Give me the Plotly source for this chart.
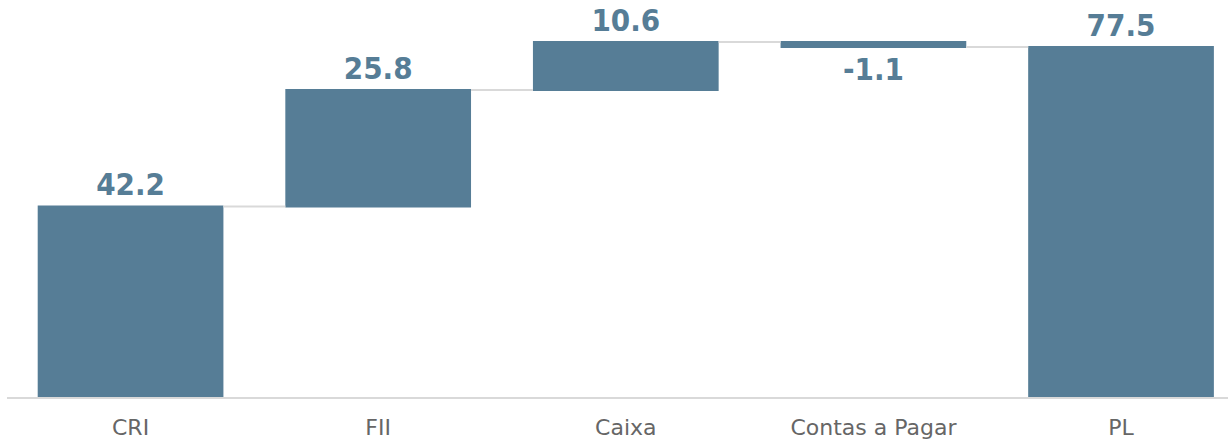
import plotly.graph_objects as go

categories = ["CRI", "FII", "Caixa", "Contas a Pagar", "PL"]
values = [42.2, 25.8, 10.6, -1.1, 77.5]
measures = ["relative", "relative", "relative", "relative", "total"]
labels = ["42.2", "25.8", "10.6", "-1.1", "77.5"]

bar_color = "#567d96"

fig = go.Figure(go.Waterfall(
    x=categories,
    y=values,
    measure=measures,
    text=labels,
    textposition="outside",
    textfont=dict(family="DejaVu Sans Condensed, DejaVu Sans", size=31, color=bar_color, weight="bold"),
    increasing=dict(marker=dict(color=bar_color)),
    decreasing=dict(marker=dict(color=bar_color)),
    totals=dict(marker=dict(color=bar_color)),
    connector=dict(line=dict(color="#d9d9d9", width=2)),
    cliponaxis=False,
))

fig.update_layout(
    width=1228, height=443,
    margin=dict(l=7, r=0, t=0, b=46),
    plot_bgcolor="white", paper_bgcolor="white",
    waterfallgap=0.25,
    showlegend=False,
    xaxis=dict(
        range=[-0.499, 4.432],
        showgrid=False,
        showline=True, linecolor="#d9d9d9", linewidth=2,
        ticks="",
        ticklabelstandoff=10,
        tickfont=dict(family="DejaVu Sans", size=22, color="#666666"),
    ),
    yaxis=dict(
        range=[0, 87.9],
        visible=False,
        showgrid=False,
    ),
)

fig.write_html("out.html", config={"displayModeBar": False},
               post_script="document.body.style.margin='0';")
